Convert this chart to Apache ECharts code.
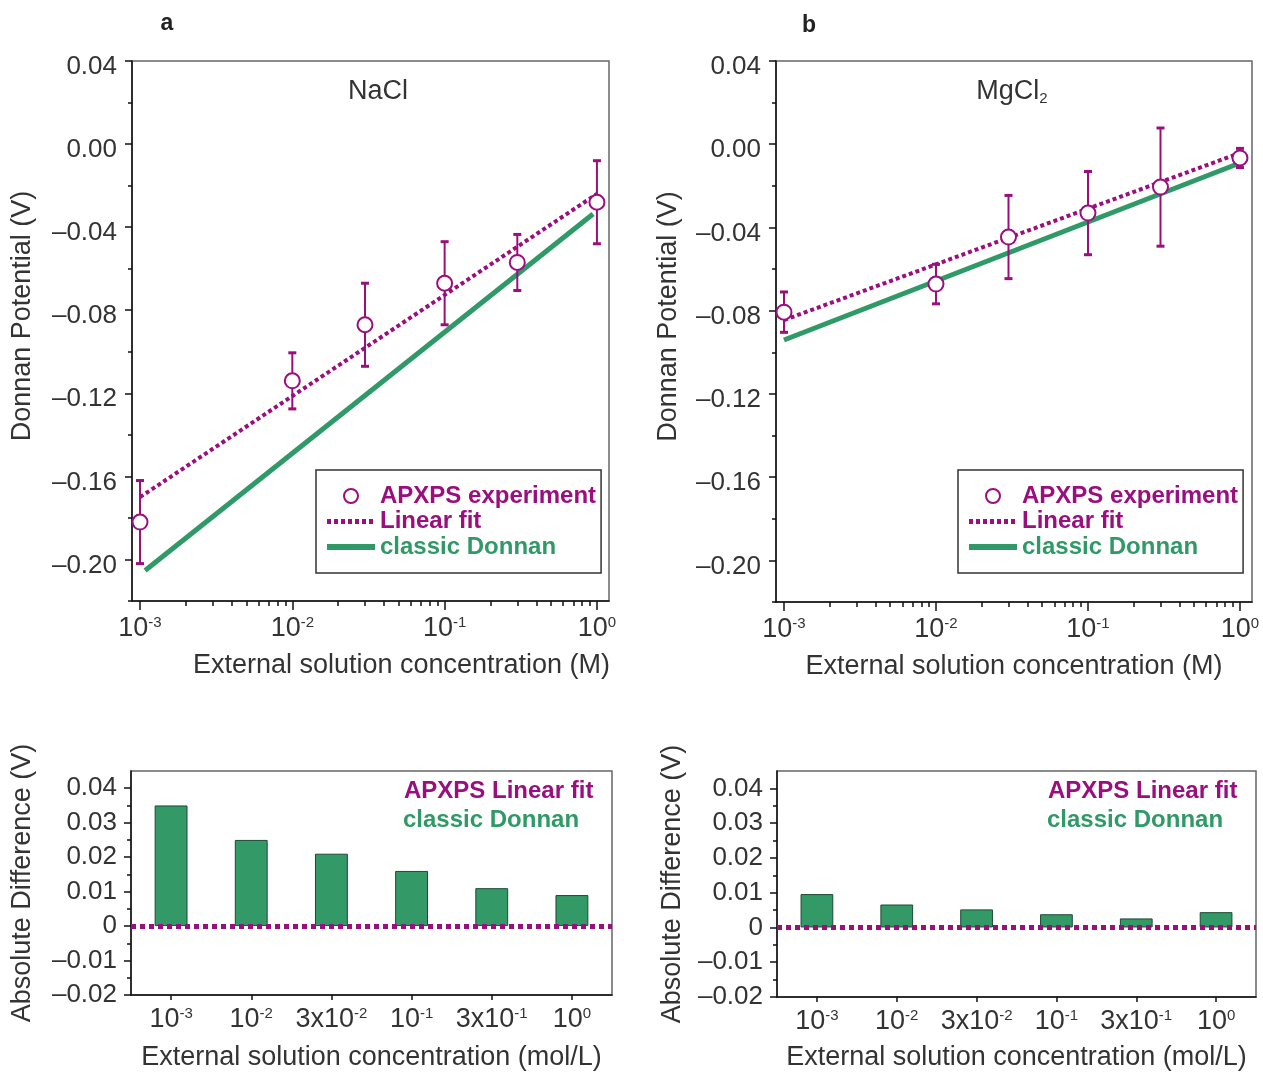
<!DOCTYPE html>
<html>
<head>
<meta charset="utf-8">
<script src="https://cdn.jsdelivr.net/npm/echarts@6/dist/echarts.min.js"></script>
<style>
html, body { margin: 0; padding: 0; background: #fff; }
#chart { width: 1263px; height: 1072px; }
</style>
</head>
<body>
<div id="chart"></div>
<script>
// external solution concentration (M)
var conc = [0.001, 0.01, 0.03, 0.1, 0.3, 1];

// a: NaCl
var naclExp = [-0.182, -0.114, -0.087, -0.067, -0.057, -0.028];
var naclErr = [0.020, 0.0135, 0.020, 0.020, 0.0135, 0.020];
var naclFit = [[0.001, -0.170], [1, -0.024]];
var naclDonnan = [[0.00108, -0.2053], [0.943, -0.0337]];

// b: MgCl2
var mgExp = [-0.0807, -0.0672, -0.0446, -0.0331, -0.0206, -0.0066];
var mgErr = [0.0097, 0.0095, 0.020, 0.020, 0.0284, 0.0046];
var mgFit = [[0.001, -0.0845], [1, -0.0042]];
var mgDonnan = [[0.001, -0.0941], [1, -0.009]];

// bottom: absolute difference
var diffCats = ['10^-3', '10^-2', '3x10^-2', '10^-1', '3x10^-1', '10^0'];
var naclDiff = [0.035, 0.025, 0.021, 0.016, 0.011, 0.009];
var mgDiff = [0.0096, 0.0066, 0.0052, 0.0038, 0.0026, 0.0044];
var fitDiff = 0;

// ticks
var potMajor = [-0.20, -0.16, -0.12, -0.08, -0.04, 0.00, 0.04];
var potMinor = [-0.22, -0.18, -0.14, -0.10, -0.06, -0.02, 0.02];
var logMajor = [0.001, 0.01, 0.1, 1];
var logMinor = [0.002, 0.003, 0.004, 0.005, 0.006, 0.007, 0.008, 0.009,
                0.02, 0.03, 0.04, 0.05, 0.06, 0.07, 0.08, 0.09,
                0.2, 0.3, 0.4, 0.5, 0.6, 0.7, 0.8, 0.9];
var diffMajor = [-0.02, -0.01, 0, 0.01, 0.02, 0.03, 0.04];
var diffMinor = [-0.015, -0.005, 0.005, 0.015, 0.025, 0.035];

var purple = '#9a0e7e';
var green = '#2f9a67';
var font = 'Liberation Sans, Arial, sans-serif';
var ink = '#333';

var mychart = echarts.init(document.getElementById('chart'));

function supLabel(s) {
    var p = s.split('^');
    if (p.length < 2) return '{b|' + s + '}';
    return '{b|' + p[0] + '}{s|' + p[1] + '}';
}
var supRich = {
    b: { fontSize: 27, color: ink, lineHeight: 28, fontFamily: font },
    s: { fontSize: 15, color: ink, lineHeight: 14, verticalAlign: 'top', fontFamily: font }
};

function potLabel(v) {
    if (Math.abs(v) < 1e-9) return '0.00';
    return (v < 0 ? '\u2013' : '') + Math.abs(v).toFixed(2);
}
function diffLabel(v) {
    if (Math.abs(v) < 1e-9) return '0';
    return (v < 0 ? '\u2013' : '') + Math.abs(v).toFixed(2);
}

var blackLine = { color: '#111', width: 1.5 };

function logAxes(grid, shift) {
    return [{
        type: 'log', gridIndex: grid, min: 0.000886, max: 1.2, position: 'bottom',
        name: 'External solution concentration (M)', nameLocation: 'middle', nameGap: 51,
        nameTextStyle: { fontSize: 27, color: ink, fontFamily: font, padding: [0, 0, 0, shift] },
        axisLine: { show: true, onZero: false, lineStyle: blackLine },
        axisTick: { show: true, length: 9, customValues: logMajor, lineStyle: blackLine },
        axisLabel: {
            customValues: logMajor, margin: 14, rich: supRich,
            formatter: function (v) { return supLabel('10^' + Math.round(Math.log10(v))); }
        },
        splitLine: { show: false }
    }, {
        type: 'log', gridIndex: grid, min: 0.000886, max: 1.2, position: 'bottom',
        axisLine: { show: false, onZero: false },
        axisTick: { show: true, length: 5, customValues: logMinor, lineStyle: blackLine },
        axisLabel: { show: false },
        splitLine: { show: false }
    }];
}

function potAxes(grid, gap) {
    return [{
        type: 'value', gridIndex: grid, min: -0.22, max: 0.04, position: 'left',
        name: 'Donnan Potential (V)', nameLocation: 'middle', nameGap: gap, nameRotate: 90,
        nameTextStyle: { fontSize: 27, color: ink, fontFamily: font, padding: [0, 0, 0, 30] },
        axisLine: { show: true, onZero: false, lineStyle: blackLine },
        axisTick: { show: true, length: 7, customValues: potMajor, lineStyle: blackLine },
        axisLabel: {
            customValues: potMajor, margin: 15, color: ink,
            formatter: function (v) { return '{v|' + potLabel(v) + '}'; },
            rich: { v: { fontSize: 26, color: ink, fontFamily: font, lineHeight: 26, padding: [12, 0, 0, 0] } }
        },
        splitLine: { show: false }
    }, {
        type: 'value', gridIndex: grid, min: -0.22, max: 0.04, position: 'left',
        axisLine: { show: false, onZero: false },
        axisTick: { show: true, length: 4, customValues: potMinor, lineStyle: blackLine },
        axisLabel: { show: false },
        splitLine: { show: false }
    }];
}

function catAxis(grid, gap) {
    return {
        type: 'category', gridIndex: grid, data: diffCats, position: 'bottom',
        name: 'External solution concentration (mol/L)', nameLocation: 'middle', nameGap: gap,
        nameTextStyle: { fontSize: 27, color: ink, fontFamily: font },
        axisLine: { show: true, onZero: false, lineStyle: blackLine },
        axisTick: { show: true, alignWithLabel: true, interval: 0, length: 5, lineStyle: blackLine },
        axisLabel: { margin: 11, interval: 0, rich: supRich, formatter: supLabel },
        splitLine: { show: false }
    };
}

function diffAxes(grid, gap) {
    return [{
        type: 'value', gridIndex: grid, min: -0.02, max: 0.045, position: 'left',
        name: 'Absolute Difference (V)', nameLocation: 'middle', nameGap: gap, nameRotate: 90,
        nameTextStyle: { fontSize: 27, color: ink, fontFamily: font },
        axisLine: { show: true, onZero: false, lineStyle: blackLine },
        axisTick: { show: true, length: 7, customValues: diffMajor, lineStyle: blackLine },
        axisLabel: { customValues: diffMajor, margin: 14, fontSize: 26, color: ink, fontFamily: font, formatter: diffLabel },
        splitLine: { show: false }
    }, {
        type: 'value', gridIndex: grid, min: -0.02, max: 0.045, position: 'left',
        axisLine: { show: false, onZero: false },
        axisTick: { show: true, length: 4, customValues: diffMinor, lineStyle: blackLine },
        axisLabel: { show: false },
        splitLine: { show: false }
    }];
}

function errorBars(params, api) {
    var x = api.value(0);
    var hi = api.coord([x, api.value(2)]);
    var lo = api.coord([x, api.value(1)]);
    var c = 4;
    return {
        type: 'group',
        children: [
            { type: 'line', shape: { x1: hi[0], y1: hi[1], x2: lo[0], y2: lo[1] }, style: { stroke: purple, lineWidth: 2 } },
            { type: 'line', shape: { x1: hi[0] - c, y1: hi[1], x2: hi[0] + c, y2: hi[1] }, style: { stroke: purple, lineWidth: 3 } },
            { type: 'line', shape: { x1: lo[0] - c, y1: lo[1], x2: lo[0] + c, y2: lo[1] }, style: { stroke: purple, lineWidth: 3 } }
        ]
    };
}

function potSeries(xi, yi, exp, err, fit, donnan) {
    return [{
        name: 'classic Donnan', type: 'line', xAxisIndex: xi, yAxisIndex: yi,
        data: donnan, symbol: 'none', z: 2,
        lineStyle: { color: green, width: 5 }, itemStyle: { color: green }
    }, {
        name: 'Linear fit', type: 'line', xAxisIndex: xi, yAxisIndex: yi,
        data: fit, symbol: 'none', z: 3,
        lineStyle: { color: purple, width: 4, type: [4, 3] }, itemStyle: { color: purple }
    }, {
        name: 'err', type: 'custom', xAxisIndex: xi, yAxisIndex: yi, z: 4,
        renderItem: errorBars, encode: { x: 0, y: [1, 2] },
        data: conc.map(function (c, i) { return [c, exp[i] - err[i], exp[i] + err[i]]; })
    }, {
        name: 'APXPS experiment', type: 'scatter', xAxisIndex: xi, yAxisIndex: yi, z: 5,
        symbol: 'emptyCircle', symbolSize: 15,
        itemStyle: { color: purple, borderColor: purple, borderWidth: 2.2, opacity: 1 },
        data: conc.map(function (c, i) { return [c, exp[i]]; })
    }];
}

function diffSeries(xi, yi, vals) {
    return {
        name: 'classic Donnan', type: 'bar', xAxisIndex: xi, yAxisIndex: yi,
        data: vals, barWidth: '41%',
        itemStyle: { color: '#339966', borderColor: '#1d4a34', borderWidth: 1 },
        markLine: {
            silent: true, symbol: 'none', label: { show: false },
            lineStyle: { color: purple, width: 5, type: [5, 4] },
            data: [{ yAxis: fitDiff }]
        }
    };
}

var hidden = { opacity: 0, color: 'rgba(0,0,0,0)', borderWidth: 0 };

function legendAt(left) {
    return {
        left: left, top: 470, orient: 'vertical', selectedMode: false,
        itemWidth: 48, itemHeight: 14, itemGap: 1.5,
        padding: [14, 5, 14, 8], borderColor: '#333', borderWidth: 1.5,
        textStyle: { fontSize: 24, fontWeight: 'bold', fontFamily: font },
        data: [
            { name: 'APXPS experiment', textStyle: { color: purple },
              itemStyle: { color: purple, borderColor: purple, borderWidth: 2, opacity: 1 } },
            { name: 'Linear fit', textStyle: { color: purple }, itemStyle: hidden,
              lineStyle: { color: purple, width: 5, type: [4, 3] } },
            { name: 'classic Donnan', textStyle: { color: green }, itemStyle: hidden,
              lineStyle: { color: green, width: 6 } }
        ]
    };
}

function txt(x, y, s, color, size, weight, align) {
    return {
        type: 'text', x: x, y: y,
        style: { text: s, fill: color, fontSize: size, fontWeight: weight || 'normal', fontFamily: font,
                 textAlign: align || 'left', textVerticalAlign: 'middle' }
    };
}

var frame = { show: true, borderColor: '#666', borderWidth: 1.5, backgroundColor: 'transparent' };

var option = {
    animation: false,
    backgroundColor: '#fff',
    textStyle: { fontFamily: font },
    grid: [
        Object.assign({ left: 132, top: 61, width: 477, height: 540 }, frame),
        Object.assign({ left: 776, top: 61, width: 476, height: 541 }, frame),
        Object.assign({ left: 131, top: 771, width: 481, height: 224 }, frame),
        Object.assign({ left: 777, top: 771, width: 479, height: 226 }, frame)
    ],
    xAxis: [].concat(logAxes(0, 62), logAxes(1, 0), [catAxis(2, 49), catAxis(3, 47)]),
    yAxis: [].concat(potAxes(0, 96), potAxes(1, 94), diffAxes(2, 95), diffAxes(3, 91)),
    legend: [legendAt(316), legendAt(958)],
    series: [].concat(
        potSeries(0, 0, naclExp, naclErr, naclFit, naclDonnan),
        potSeries(2, 2, mgExp, mgErr, mgFit, mgDonnan),
        [diffSeries(4, 4, naclDiff), diffSeries(5, 6, mgDiff)]
    ),
    graphic: [
        txt(167, 24, 'a', '#222', 23, 'bold', 'center'),
        txt(809, 26, 'b', '#222', 23, 'bold', 'center'),
        txt(378, 92, 'NaCl', ink, 27, 'normal', 'center'),
        {
            type: 'text', x: 1012, y: 92,
            style: {
                text: '{a|MgCl}{s|2}', fill: ink, fontFamily: font, textAlign: 'center', textVerticalAlign: 'middle',
                rich: {
                    a: { fontSize: 27, lineHeight: 28, fontFamily: font, fill: ink },
                    s: { fontSize: 15, lineHeight: 15, verticalAlign: 'bottom', fontFamily: font, fill: ink }
                }
            }
        },
        txt(404, 791, 'APXPS Linear fit', purple, 24, 'bold'),
        txt(403, 820, 'classic Donnan', green, 24, 'bold'),
        txt(1048, 791, 'APXPS Linear fit', purple, 24, 'bold'),
        txt(1047, 820, 'classic Donnan', green, 24, 'bold')
    ]
};
mychart.setOption(option);
</script>
</body>
</html>
